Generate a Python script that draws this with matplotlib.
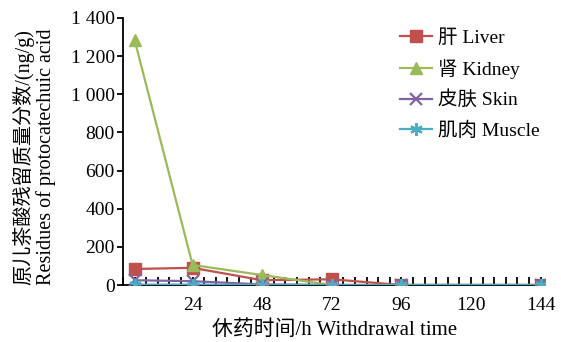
import matplotlib
matplotlib.use("Agg")
import matplotlib.pyplot as plt
from matplotlib.ticker import MultipleLocator, FuncFormatter

hours = [4, 24, 48, 72, 96, 144]
liver = [84, 90, 25, 30, 0, 0]
kidney = [1285, 105, 52, 0, 0, 0]
skin = [25, 20, 3, 0, 0, 0]
muscle = [2, 2, 1, 0, 0, 0]

series_names = ["肝 Liver", "肾 Kidney", "皮肤 Skin", "肌肉 Muscle"]
x_major = [24, 48, 72, 96, 120, 144]
y_major = [0, 200, 400, 600, 800, 1000, 1200, 1400]

fam = ["Liberation Serif", "Noto Sans CJK SC"]
plt.rcParams["font.family"] = fam
plt.rcParams["font.size"] = 14

W, H = 561, 342
fig = plt.figure(figsize=(W / 100, H / 100), dpi=100)
ax = fig.add_axes([123 / W, (H - 285) / H, 422 / W, 267 / H])

ax.plot(hours, liver, color="#C0504D", marker="s", markersize=8, lw=1.6, label=series_names[0], zorder=3)
ax.plot(hours, kidney, color="#9BBB59", marker="^", markersize=8.5, lw=1.6, label=series_names[1], zorder=3)
ax.plot(hours, skin, color="#8064A2", marker="x", markersize=8, mew=1.6, lw=1.6, label=series_names[2], zorder=3)
ax.plot(hours, muscle, color="#4BACC6", marker=(6, 2, 0), markersize=9, mew=1.6, lw=1.6, label=series_names[3], zorder=4)

ax.set_xlim(0, 145.5)
ax.set_ylim(0, 1400)
ax.set_xticks(x_major)
ax.xaxis.set_minor_locator(MultipleLocator(4))
ax.set_yticks(y_major)

def fmt(v, pos):
    v = int(round(v))
    if v >= 1000:
        return "%d %03d" % (v // 1000, v % 1000)
    return str(v)
ax.yaxis.set_major_formatter(FuncFormatter(fmt))

ax.tick_params(axis="x", which="both", direction="in", length=6, width=1.3, pad=9, labelsize=14)
ax.tick_params(axis="y", which="both", direction="out", length=4, width=1.3, labelsize=14, pad=2)
ax.spines["top"].set_visible(False)
ax.spines["right"].set_visible(False)
ax.spines["left"].set_linewidth(1.3)
ax.spines["bottom"].set_linewidth(1.3)

fig.text(335 / W, 1 - 330 / H, "休药时间/h Withdrawal time", fontsize=15, ha="center", va="center")
fig.text(34 / W, 1 - 157 / H, "原儿茶酸残留质量分数/(ng/g)\nResidues of protocatechuic acid",
         fontsize=14.5, rotation=90, ha="center", va="center", linespacing=1.1)

ax.legend(loc="upper left", bbox_to_anchor=(400 / W, 1 - 29 / H), bbox_transform=fig.transFigure,
          frameon=False, fontsize=14, borderaxespad=0, borderpad=0,
          handlelength=1.65, labelspacing=0.62, handletextpad=0.3)

fig.savefig("out.png", dpi=100)
